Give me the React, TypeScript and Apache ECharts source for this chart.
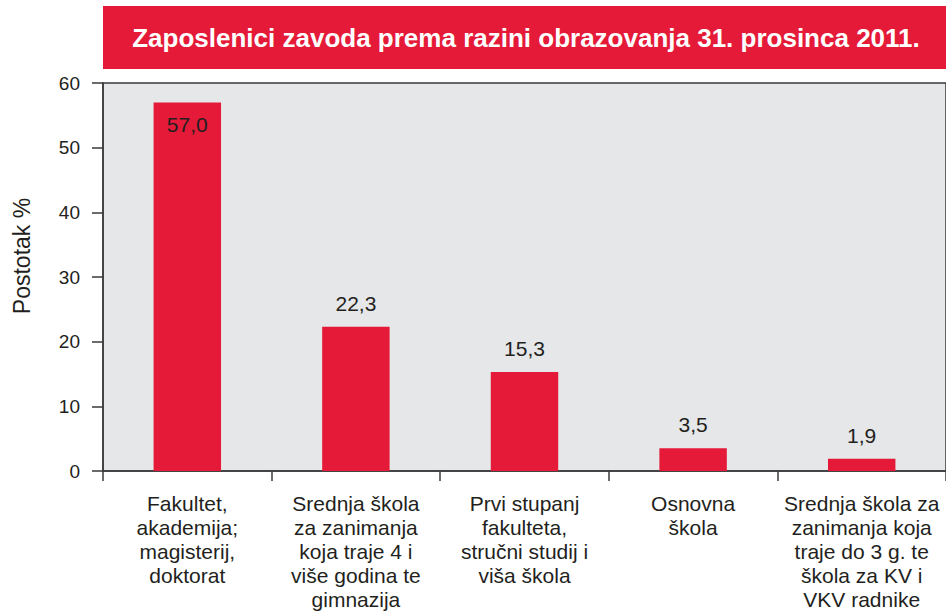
import React, { useEffect, useRef } from "react";
import * as echarts from "echarts";

const titleText = "Zaposlenici zavoda prema razini obrazovanja 31. prosinca 2011.";
const categories = [
  "Fakultet,\nakademija;\nmagisterij,\ndoktorat",
  "Srednja škola\nza zanimanja\nkoja traje 4 i\nviše godina te\ngimnazija",
  "Prvi stupanj\nfakulteta,\nstručni studij i\nviša škola",
  "Osnovna\nškola",
  "Srednja škola za\nzanimanja koja\ntraje do 3 g. te\nškola za KV i\nVKV radnike",
];
const values = [57.0, 22.3, 15.3, 3.5, 1.9];
const yTicks = [0, 10, 20, 30, 40, 50, 60];
const yAxisName = "Postotak %";

const RED = "#E41A38";
const TEXT = "#231F20";
const FONT = "'Liberation Sans', Arial, sans-serif";

export default function App() {
  const ref = useRef<HTMLDivElement>(null);
  useEffect(() => {
    if (!ref.current) return;
    const chart = echarts.init(ref.current, undefined, { renderer: "svg" });
    chart.setOption({
      animation: false,
      textStyle: { fontFamily: FONT },
      graphic: [
        {
          type: "rect",
          shape: { x: 103, y: 6, width: 843, height: 63 },
          style: { fill: RED },
          silent: true,
        },
        {
          type: "text",
          x: 526,
          y: 38,
          style: {
            text: titleText,
            fill: "#ffffff",
            font: `bold 26px ${FONT}`,
            align: "center",
            verticalAlign: "middle",
          },
        },
        {
          type: "text",
          x: 22,
          y: 256,
          rotation: Math.PI / 2,
          style: {
            text: yAxisName,
            fill: TEXT,
            font: `23px ${FONT}`,
            align: "center",
            verticalAlign: "middle",
          },
        },
      ],
      grid: {
        left: 103,
        right: -1,
        top: 83,
        bottom: 144,
        show: true,
        backgroundColor: "#E6E7E8",
        borderColor: "#3a3a3a",
        borderWidth: 1.5,
      },
      xAxis: {
        type: "category",
        data: categories,
        axisLine: { show: true, lineStyle: { color: "#3a3a3a", width: 1.5 } },
        axisTick: { show: true, length: 10, lineStyle: { color: "#3a3a3a", width: 1.5 } },
        axisLabel: {
          interval: 0,
          margin: 20,
          color: TEXT,
          fontSize: 21,
          lineHeight: 24,
          fontFamily: FONT,
          align: "center",
        },
      },
      yAxis: {
        type: "value",
        min: 0,
        max: 60,
        interval: 10,
        splitLine: { show: false },
        axisLine: { show: true, lineStyle: { color: "#3a3a3a", width: 1.5 } },
        axisTick: { show: true, length: 11, lineStyle: { color: "#3a3a3a", width: 1.5 } },
        axisLabel: {
          color: TEXT,
          fontSize: 19,
          margin: 23,
          fontFamily: FONT,
          formatter: (v: number) => (yTicks.includes(v) ? String(v) : ""),
        },
      },
      series: [
        {
          type: "bar",
          data: values.map((v, i) => ({
            value: v,
            label:
              i === 0
                ? { position: "insideTop", distance: 12 }
                : { position: "top", distance: 13 },
          })),
          barWidth: "40%",
          itemStyle: { color: RED },
          label: {
            show: true,
            color: TEXT,
            fontSize: 21,
            fontFamily: FONT,
            formatter: (p: any) => Number(p.value).toFixed(1).replace(".", ","),
          },
        },
      ],
    });
    return () => chart.dispose();
  }, []);
  return <div ref={ref} style={{ width: 946, height: 615, position: "absolute", left: 0, top: 0 }} />;
}
